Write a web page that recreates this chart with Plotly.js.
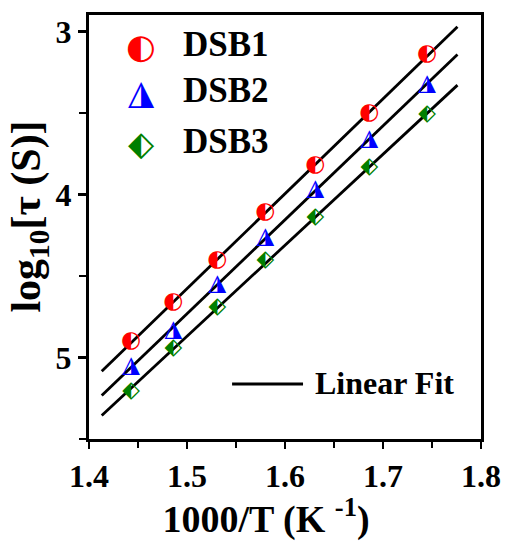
<!DOCTYPE html>
<html><head><meta charset="utf-8">
<script src="https://cdn.plot.ly/plotly-3.0.1.min.js"></script>
<style>html,body{margin:0;padding:0;background:#fff}#chart{width:506px;height:541px}</style>
</head><body><div id="chart"></div>
<script>
// ---- data ----
const invT = [1.443, 1.486, 1.531, 1.580, 1.631, 1.686, 1.745];   // 1000/T (K^-1)
const DSB1 = [4.90, 4.66, 4.405, 4.11, 3.82, 3.50, 3.14];         // log10[tau]
const DSB2 = [5.055, 4.83, 4.55, 4.26, 3.97, 3.66, 3.325];
const DSB3 = [5.21, 4.94, 4.69, 4.40, 4.14, 3.835, 3.51];
const seriesNames = ['DSB1', 'DSB2', 'DSB3'];
const fitRange = [1.413, 1.776];
const xTickVals = [1.4, 1.5, 1.6, 1.7, 1.8];
const yTickVals = [3, 4, 5];

// ---- styles ----
const colors = ['#ff0000', '#0000ff', '#007f00'];
const glyphs = ['\u25D0', '\u25EE', '\u2B16'];
const serif = 'Liberation Serif';

function linfit(x, y) {
  const n = x.length;
  const mx = x.reduce((a, b) => a + b, 0) / n;
  const my = y.reduce((a, b) => a + b, 0) / n;
  let sxy = 0, sxx = 0;
  for (let i = 0; i < n; i++) { sxy += (x[i] - mx) * (y[i] - my); sxx += (x[i] - mx) ** 2; }
  const b = sxy / sxx, a = my - b * mx;
  return xs => xs.map(v => a + b * v);
}

const allY = [DSB1, DSB2, DSB3];
const traces = [];
allY.forEach((ys, i) => {
  const f = linfit(invT, ys);
  traces.push({
    x: fitRange, y: f(fitRange), mode: 'lines', type: 'scatter',
    line: {color: '#000', width: 2.8}, showlegend: false, hoverinfo: 'skip'
  });
});
allY.forEach((ys, i) => {
  traces.push({
    x: invT, y: ys, mode: 'text', type: 'scatter', name: seriesNames[i],
    text: invT.map(() => glyphs[i]), textposition: 'middle center',
    textfont: {family: 'DejaVu Sans', size: 23, color: colors[i]},
    showlegend: false
  });
});

// legend built from annotations
const annotations = [];
const legY = [0.927, 0.818, 0.698];
seriesNames.forEach((nm, i) => {
  annotations.push({xref: 'paper', yref: 'paper', x: 0.133, y: legY[i], text: glyphs[i],
    showarrow: false, xanchor: 'center', yanchor: 'middle',
    font: {family: 'DejaVu Sans', size: 34, color: colors[i]}});
  annotations.push({xref: 'paper', yref: 'paper', x: 0.235, y: legY[i] + 0.004, text: '<b>' + nm + '</b>',
    showarrow: false, xanchor: 'left', yanchor: 'middle',
    font: {family: serif, size: 35, color: '#000'}});
});
annotations.push({xref: 'paper', yref: 'paper', x: 0.571, y: 0.132, text: '<b>Linear Fit</b>',
  showarrow: false, xanchor: 'left', yanchor: 'middle',
  font: {family: serif, size: 32, color: '#000'}});

const layout = {
  width: 506, height: 541,
  margin: {l: 89, r: 25, t: 15, b: 102},
  paper_bgcolor: '#fff', plot_bgcolor: '#fff',
  showlegend: false,
  xaxis: {
    range: [1.4, 1.8], tickvals: xTickVals, ticktext: xTickVals.map(v => '<b>' + v.toFixed(1) + '</b>'),
    ticks: 'outside', ticklen: 7, tickwidth: 2.5, tickcolor: '#000',
    minor: {dtick: 0.05, tick0: 1.4, ticks: 'outside', ticklen: 6, tickwidth: 2.5, tickcolor: '#000'},
    showline: true, mirror: true, linewidth: 3, linecolor: '#000',
    showgrid: false, zeroline: false,
    tickfont: {family: serif, size: 32, color: '#000'},
    title: {text: '<b>1000/T (K <sup>-1</sup>)</b>&nbsp;&nbsp;&nbsp;&nbsp;', standoff: 6,
      font: {family: serif, size: 38, color: '#000'}}
  },
  yaxis: {
    range: [5.5, 2.898], tickvals: yTickVals, ticktext: yTickVals.map(v => '<b>' + v + '</b>'),
    ticks: 'outside', ticklen: 8, tickwidth: 2.5, tickcolor: '#000',
    minor: {dtick: 0.5, tick0: 3, ticks: 'outside', ticklen: 7, tickwidth: 2.5, tickcolor: '#000'},
    showline: true, mirror: true, linewidth: 3, linecolor: '#000',
    showgrid: false, zeroline: false,
    tickfont: {family: serif, size: 32, color: '#000'},
    title: {text: '&nbsp;&nbsp;<b>log<sub>10</sub>[τ (S)]</b>', standoff: 2,
      font: {family: serif, size: 42, color: '#000'}}
  },
  shapes: [{type: 'line', xref: 'paper', yref: 'paper', x0: 0.365, x1: 0.546, y0: 0.130, y1: 0.130,
    line: {color: '#000', width: 3}}],
  annotations: annotations
};

Plotly.newPlot('chart', traces, layout, {displayModeBar: false, staticPlot: true});
</script>
</body></html>
